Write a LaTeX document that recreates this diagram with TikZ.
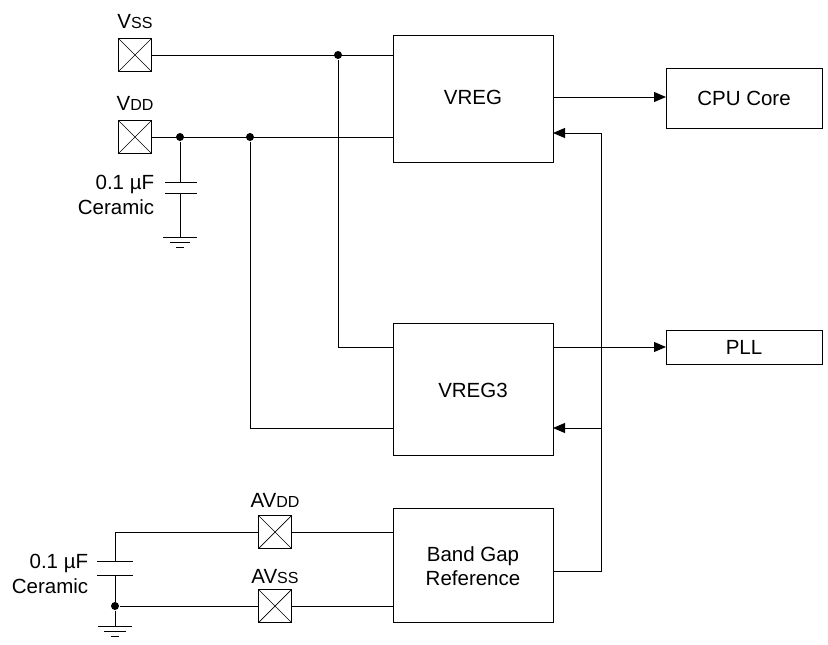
\documentclass[tikz,border=0pt]{standalone}
\usepackage{fontspec}
\setmainfont{Liberation Sans}
\usetikzlibrary{arrows.meta}
\begin{document}
\begin{tikzpicture}[x=1pt,y=-1pt,
  line width=1pt, every node/.style={font=\fontsize{20.5}{25}\selectfont},
  blk/.style={draw,minimum width=160pt,anchor=north west,inner sep=0pt},
  pad/.style={draw,minimum width=33pt,minimum height=33pt,inner sep=0pt,
    path picture={\draw[line width=0.7pt](path picture bounding box.north west)--(path picture bounding box.south east)
     (path picture bounding box.south west)--(path picture bounding box.north east);}},
  dot/.style={circle,fill,inner sep=0pt,minimum size=8pt},
  arr/.style={-{Triangle[length=12pt,width=10pt]}},
  lbl/.style={font=\fontsize{20.5}{23}\selectfont,align=right,anchor=east}]
\newcommand{\sm}[1]{{\fontsize{16}{18}\selectfont #1}}
\useasboundingbox (0,0) rectangle (828,645);
% blocks
\node[blk,minimum height=127pt] (vreg) at (393,35) {};
\node at (473,97) {VREG};
\node[blk,minimum height=132pt] (vreg3) at (393,323) {};
\node at (473,390) {VREG3};
\node[blk,minimum height=114pt] (bg) at (393,508) {};
\node[align=center,font=\fontsize{20.5}{24}\selectfont] at (473,566) {Band Gap\\Reference};
\node[draw,minimum width=156pt,minimum height=60pt,anchor=north west] (cpu) at (666,68) {};
\node at (744,98) {CPU Core};
\node[draw,minimum width=156pt,minimum height=34pt,anchor=north west] (pll) at (666,330) {};
\node at (744,347) {PLL};
% pads
\node[pad] (vss) at (135,55) {};
\node at (135,22) {V\sm{SS}};
\node[pad] (vdd) at (135,137) {};
\node at (135,103) {V\sm{DD}};
\node[pad] (avdd) at (275,532) {};
\node at (275,500) {AV\sm{DD}};
\node[pad] (avss) at (275,606) {};
\node at (275,577) {AV\sm{SS}};
% dots
\node[dot] (d1) at (338,55) {};
\node[dot] (d2) at (180,137) {};
\node[dot] (d3) at (250,137) {};
\node[dot] (d4) at (115,606) {};
% wires
\draw (vss.east) -- (393,55);
\draw (d1) -- (338,347) -- (393,347);
\draw (vdd.east) -- (393,137);
\draw (d3) -- (250,428) -- (393,428);
% cap 1
\draw (d2) -- (180,182) (165,182) -- (197,182) (165,193) -- (197,193) (180,193) -- (180,237)
  (163,237) -- (197,237) (170,242) -- (190,242) (176,247) -- (184,247);
\node[lbl] at (158,184) {0.1 µF};
\node[lbl] at (158,207) {Ceramic};
% outputs
\draw[arr] (553,97) -- (cpu.west |- 0,97);
\draw[arr] (553,347) -- (pll.west |- 0,347);
\coordinate (fbt) at (601,133);
\coordinate (fbb) at (601,571);
\draw (553,571) -- (fbb) -- (fbt);
\draw[arr] (fbt) -- (553,133);
\draw[arr] (601,428) -- (553,428);
% analog
\draw (avdd.east) -- (393,532);
\draw (avss.east) -- (393,606);
\draw (avdd.west) -- (115,532) -- (115,561) (97,561) -- (133,561) (97,575) -- (133,575) (115,575) -- (d4) -- (avss.west);
\draw (d4) -- (115,626) (98,626) -- (132,626) (104,631) -- (126,631) (111,636) -- (119,636);
\node[lbl] at (92,563) {0.1 µF};
\node[lbl] at (92,586) {Ceramic};
\end{tikzpicture}
\end{document}
